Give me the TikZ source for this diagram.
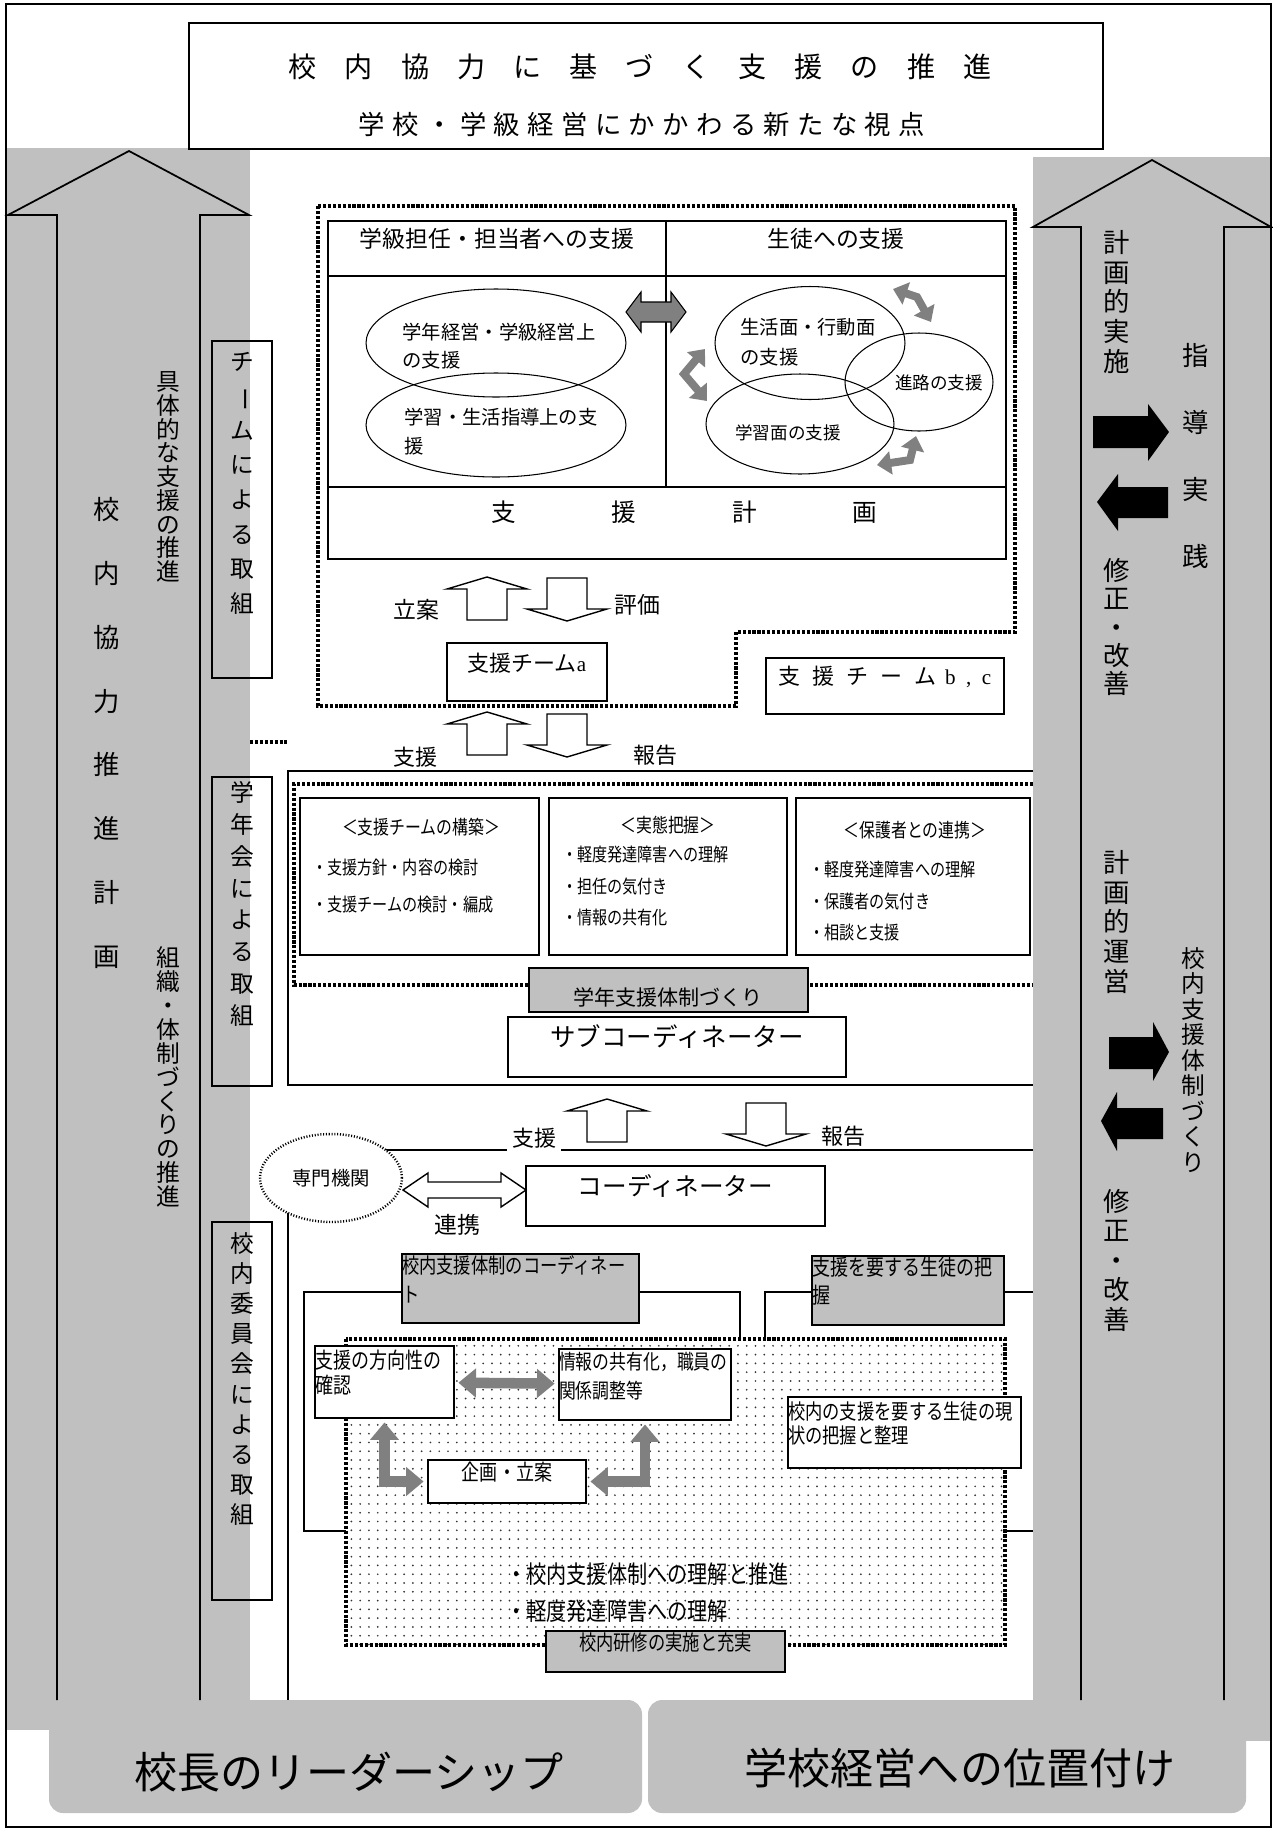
\documentclass[tikz,border=0pt]{standalone}
\usepackage{fontspec}
\setmainfont{Noto Sans CJK JP}
\newfontfamily\condjp[FakeStretch=0.82]{Noto Sans CJK JP}
\newfontfamily\latinserif{Liberation Serif}
\usetikzlibrary{shapes.geometric, arrows.meta, positioning, fit, patterns.meta}
\definecolor{bandgray}{HTML}{C0C0C0}
\definecolor{arrgray}{HTML}{808080}
\newcommand\setfs[2]{\fontsize{#1pt}{#2pt}\selectfont\lineskiplimit=-100pt\relax}
\newcommand\vbar{\rotatebox[origin=c]{-90}{ー}}
\tikzstyle{box} = [rectangle, draw=black, line width=1pt, inner sep=0pt]
\tikzstyle{wbox} = [box, fill=white]
\tikzstyle{gbox} = [box, fill=bandgray]
\tikzstyle{dotline} = [densely dotted, line width=1.8pt]
\tikzstyle{vtext} = [align=center, inner sep=0pt]
\tikzstyle{blob} = [ellipse, draw=black, line width=0.6pt, inner sep=0pt]
\tikzstyle{hollow} = [draw=black, line width=0.8pt, fill=white]
\tikzstyle{gconn} = [draw=arrgray, line width=6pt, shorten <=2pt, shorten >=2pt, {Triangle[length=10pt,width=16pt]}-{Triangle[length=10pt,width=16pt]}]
\tikzstyle{gzig} = [draw=arrgray, line width=4.5pt, {Triangle[length=8pt,width=13pt]}-{Triangle[length=8pt,width=13pt]}]
\tikzset{
  upblock/.pic={\draw[hollow] (0,0) -- (40,12) -- (20,12) -- (20,43) -- (-20,43) -- (-20,12) -- (-40,12) -- cycle;},
  downblock/.pic={\draw[hollow] (0,0) -- (40,-12) -- (20,-12) -- (20,-43) -- (-20,-43) -- (-20,-12) -- (-40,-12) -- cycle;}
}

\begin{document}
\begin{tikzpicture}[x=0.02cm, y=-0.02cm]
\useasboundingbox (0,0) rectangle (1273,1829);

% Bands
\fill[bandgray] (7,148) rectangle (250,1730);
\fill[bandgray] (1033,157) rectangle (1270,1741);
\fill[bandgray, rounded corners=8pt] (49,1700) rectangle (642,1813);
\fill[bandgray, rounded corners=8pt] (648,1700) rectangle (1246,1813);
\draw[line width=1.2pt] (6,4) rectangle (1271,1827);

\draw[line width=1pt] (57,1700) -- (57,215) -- (8,215) -- (129,151) -- (249,215) -- (200,215) -- (200,1700);
\draw[line width=1pt] (1081,1700) -- (1081,227) -- (1033,227) -- (1152,160) -- (1271,227) -- (1224,227) -- (1224,1700);

\node[font=\setfs{24.5}{28}] (leader) at (349,1772) {校長のリーダーシップ};
\node[font=\setfs{24.5}{28}] (placing) at (960,1768) {学校経営への位置付け};

% Title
\node[wbox, fit={(189,23) (1103,149)}] (titlebox) {};
\node[font=\setfs{16}{18}] (title1) at (640,67) {校　内　協　力　に　基　づ　く　支　援　の　推　進};
\node[font=\setfs{15}{17}\addfontfeatures{LetterSpace=28}] (title2) at (642,124) {学校・学級経営にかかわる新たな視点};

% Left column
\node[vtext, font=\setfs{15}{36.3}] (planL) at (107,733) {校\\内\\協\\力\\推\\進\\計\\画};
\node[vtext, font=\setfs{13.5}{13.5}] (concrete) at (168,477) {具\\体\\的\\な\\支\\援\\の\\推\\進};
\node[vtext, font=\setfs{13.5}{13.6}] (organize) at (168,1077) {組\\織\\・\\体\\制\\づ\\く\\り\\の\\推\\進};

\node[box, fit={(212,341) (272,678)}] (teambox) {};
\node[vtext, font=\setfs{13.5}{19.7}] (teamtxt) at (242,483) {チ\\\vbar\\ム\\に\\よ\\る\\取\\組};
\node[box, fit={(212,777) (272,1086)}] (gradebox) {};
\node[vtext, font=\setfs{13.5}{18.1}] (gradetxt) at (242,904) {学\\年\\会\\に\\よ\\る\\取\\組};
\node[box, fit={(212,1222) (272,1600)}] (commbox) {};
\node[vtext, font=\setfs{13.5}{17.2}] (commtxt) at (242,1379) {校\\内\\委\\員\\会\\に\\よ\\る\\取\\組};

% Right column
\node[vtext, font=\setfs{15}{16.8}] (doplan) at (1117,302) {計\\画\\的\\実\\施};
\node[vtext, font=\setfs{15}{38}] (practice) at (1196,456) {指\\導\\実\\践};
\node[vtext, font=\setfs{15}{16.2}] (fixA) at (1117,627) {修\\正\\・\\改\\善};
\node[vtext, font=\setfs{15}{17}] (runplan) at (1117,922) {計\\画\\的\\運\\営};
\node[vtext, font=\setfs{13.5}{14.5}] (system) at (1193,1060) {校\\内\\支\\援\\体\\制\\づ\\く\\り};
\node[vtext, font=\setfs{15}{16.8}] (fixB) at (1117,1260) {修\\正\\・\\改\\善};
\fill (1093,416) -- (1148,416) -- (1148,404) -- (1169,432) -- (1148,461) -- (1148,448) -- (1093,448) -- cycle;
\fill (1168,487) -- (1118,487) -- (1118,474) -- (1097,502) -- (1118,531) -- (1118,518) -- (1168,518) -- cycle;
\fill (1109,1037) -- (1153,1037) -- (1153,1022) -- (1169,1052) -- (1153,1081) -- (1153,1069) -- (1109,1069) -- cycle;
\fill (1163,1108) -- (1117,1108) -- (1117,1092) -- (1101,1121) -- (1117,1151) -- (1117,1139) -- (1163,1139) -- cycle;

% Team section
\draw[dotline] (318,206) -- (1015,206) -- (1015,632) -- (736,632) -- (736,706) -- (318,706) -- cycle;
\node[box, fit={(328,221) (666,276)}, font=\setfs{13}{15}] (hdL) {学級担任・担当者への支援};
\node[box, fit={(666,221) (1006,276)}, font=\setfs{13}{15}] (hdR) {生徒への支援};
\node[box, fit={(328,276) (666,487)}] (bdL) {};
\node[box, fit={(666,276) (1006,487)}] (bdR) {};
\node[box, fit={(328,487) (1006,559)}, font=\setfs{14}{16}] (planrow) {\hspace{1.4em}支\hspace{3.9em}援\hspace{3.9em}計\hspace{3.9em}画};

\node[blob, minimum width=5.2cm, minimum height=2.16cm] (mgmt) at (496,343) {};
\node[blob, minimum width=5.2cm, minimum height=2.08cm] (guide) at (496,425) {};
\node[blob, minimum width=3.8cm, minimum height=2.26cm] (life) at (810,343) {};
\node[blob, minimum width=2.96cm, minimum height=1.96cm] (career) at (919,382) {};
\node[blob, minimum width=3.76cm, minimum height=2.0cm] (study) at (800,424) {};
\node[align=left, font=\setfs{11}{16}] (mgmttxt) at (499,346) {学年経営・学級経営上\\の支援};
\node[align=left, font=\setfs{11}{16.5}] (guidetxt) at (501,432) {学習・生活指導上の支\\援};
\node[align=left, font=\setfs{11}{17}] (lifetxt) at (808,342) {生活面・行動面\\の支援};
\node[font=\setfs{10}{12}] (careertxt) at (939,383) {進路の支援};
\node[font=\setfs{10}{12}] (studytxt) at (788,433) {学習面の支援};

\draw[line width=0.6pt, fill=arrgray] (626,312) -- (641,292) -- (641,302) -- (671,302) -- (671,292) -- (686,312) -- (671,332) -- (671,322) -- (641,322) -- (641,332) -- cycle;
\draw[gzig] (893,289) -- (917,297) -- (931,322);
\draw[gzig] (705,349) -- (684,374) -- (707,401);
\draw[gzig] (916,436) -- (910,460) -- (877,465);

\pic at (487,577) {upblock};
\pic at (567,621) {downblock};
\node[font=\setfs{13}{15}] (draftlbl) at (416,610) {立案};
\node[font=\setfs{13}{15}] (evallbl) at (637,605) {評価};
\node[box, fit={(447,643) (607,701)}, font=\setfs{12.5}{14}] (teamA) {支援チーム{\latinserif\large a}};
\node[box, fit={(766,658) (1004,714)}, font=\setfs{12.5}{14}] (teamBC) {{\addfontfeatures{LetterSpace=55}支援チーム}\hspace{0.4em}{\latinserif\large b\hspace{0.5em},\hspace{0.5em}c}};

\draw[dotline] (250,742) -- (287,742);
\pic at (487,712) {upblock};
\pic at (567,757) {downblock};
\node[font=\setfs{12.5}{14}] (supA) at (415,757) {支援};
\node[font=\setfs{12.5}{14}] (repA) at (655,755) {報告};

% Grade section
\draw[line width=1pt] (1033,771) -- (288,771) -- (288,1085) -- (1033,1085);
\draw[dotline] (1033,784) -- (294,784) -- (294,985) -- (1033,985);
\node[box, fit={(300,798) (539,955)}] (build) {};
\node[box, fit={(549,798) (787,955)}] (grasp) {};
\node[box, fit={(796,798) (1030,955)}] (parents) {};
\node[font=\condjp\setfs{11}{13}] (buildhd) at (421,827) {＜支援チームの構築＞};
\node[font=\condjp\setfs{11}{13}] (grasphd) at (668,825) {＜実態把握＞};
\node[font=\condjp\setfs{11}{13}] (parentshd) at (915,830) {＜保護者との連携＞};
\node[anchor=west, align=left, font=\condjp\setfs{10.5}{21}] (buildit) at (306,886) {・支援方針・内容の検討\\・支援チームの検討・編成};
\node[anchor=west, align=left, font=\condjp\setfs{10.5}{17.9}] (graspit) at (556,886) {・軽度発達障害への理解\\・担任の気付き\\・情報の共有化};
\node[anchor=west, align=left, font=\condjp\setfs{10.5}{17.9}] (parentsit) at (803,901) {・軽度発達障害への理解\\・保護者の気付き\\・相談と支援};
\node[gbox, fit={(529,968) (808,1012)}] (gradesys) {};
\node[font=\setfs{12}{14}] (gradesystxt) at (668,997) {学年支援体制づくり};
\node[box, fit={(508,1017) (846,1077)}, font=\setfs{14.5}{16}] (subcoord) {サブコーディネーター};

\pic at (607,1099) {upblock};
\pic at (766,1146) {downblock};

% Committee section
\draw[line width=1pt] (1033,1150) -- (288,1150) -- (288,1700);
\node[fill=white, inner sep=3pt, font=\setfs{12.5}{14}] (supB) at (534,1138) {支援};
\node[font=\setfs{12.5}{14}] (repB) at (843,1136) {報告};
\node[blob, densely dotted, line width=1.4pt, fill=white, minimum width=2.84cm, minimum height=1.76cm, font=\setfs{11}{13}] (expert) at (331,1178) {専門機関};
\node[box, fit={(526,1166) (825,1226)}, font=\setfs{14}{16}] (coord) {コーディネーター};
\draw[hollow] (403,1190) -- (428,1173) -- (428,1182) -- (501,1182) -- (501,1173) -- (526,1190) -- (501,1207) -- (501,1198) -- (428,1198) -- (428,1207) -- cycle;
\node[font=\setfs{13}{15}] (linklbl) at (457,1225) {連携};

\draw[line width=1pt] (304,1292) rectangle (740,1531);
\draw[line width=1pt] (1033,1292) -- (765,1292) -- (765,1531) -- (1033,1531);
\node[gbox, fit={(402,1254) (639,1323)}, align=left, font=\condjp\setfs{12}{16.5}] (coordsys) {校内支援体制のコーディネー\\ト};
\node[gbox, fit={(812,1256) (1004,1325)}, align=left, font=\condjp\setfs{12.5}{16}] (needs) {支援を要する生徒の把\\握};

\fill[white] (346,1339) rectangle (1005,1645);
\fill[pattern={Dots[distance=5pt, radius=0.55pt]}, pattern color=black!80] (346,1339) rectangle (1005,1645);
\draw[dotline] (346,1339) rectangle (1005,1645);

\node[wbox, fit={(315,1346) (454,1418)}, align=left, font=\condjp\setfs{12.5}{14}] (dir) {支援の方向性の\\確認};
\node[wbox, fit={(559,1349) (731,1420)}, align=left, font=\condjp\setfs{11.7}{16.5}] (info) {情報の共有化，職員の\\関係調整等};
\node[wbox, fit={(788,1397) (1021,1468)}, align=left, font=\condjp\setfs{12}{14}] (status) {校内の支援を要する生徒の現\\状の把握と整理};
\node[wbox, fit={(428,1460) (586,1503)}, font=\condjp\setfs{12.5}{14}] (draft) {企画・立案};

% Edges
\draw[gconn] (dir) -- (info);
\draw[gconn] (dir.south) |- (draft.west);
\draw[gconn] (draft.east) -| (info.south);

\node[anchor=west, align=left, font=\condjp\setfs{14}{21}] (bullets) at (500,1593) {・校内支援体制への理解と推進\\・軽度発達障害への理解};
\node[gbox, fit={(546,1631) (785,1672)}, font=\condjp\setfs{12}{14}] (training) {校内研修の実施と充実};

\end{tikzpicture}
\end{document}
